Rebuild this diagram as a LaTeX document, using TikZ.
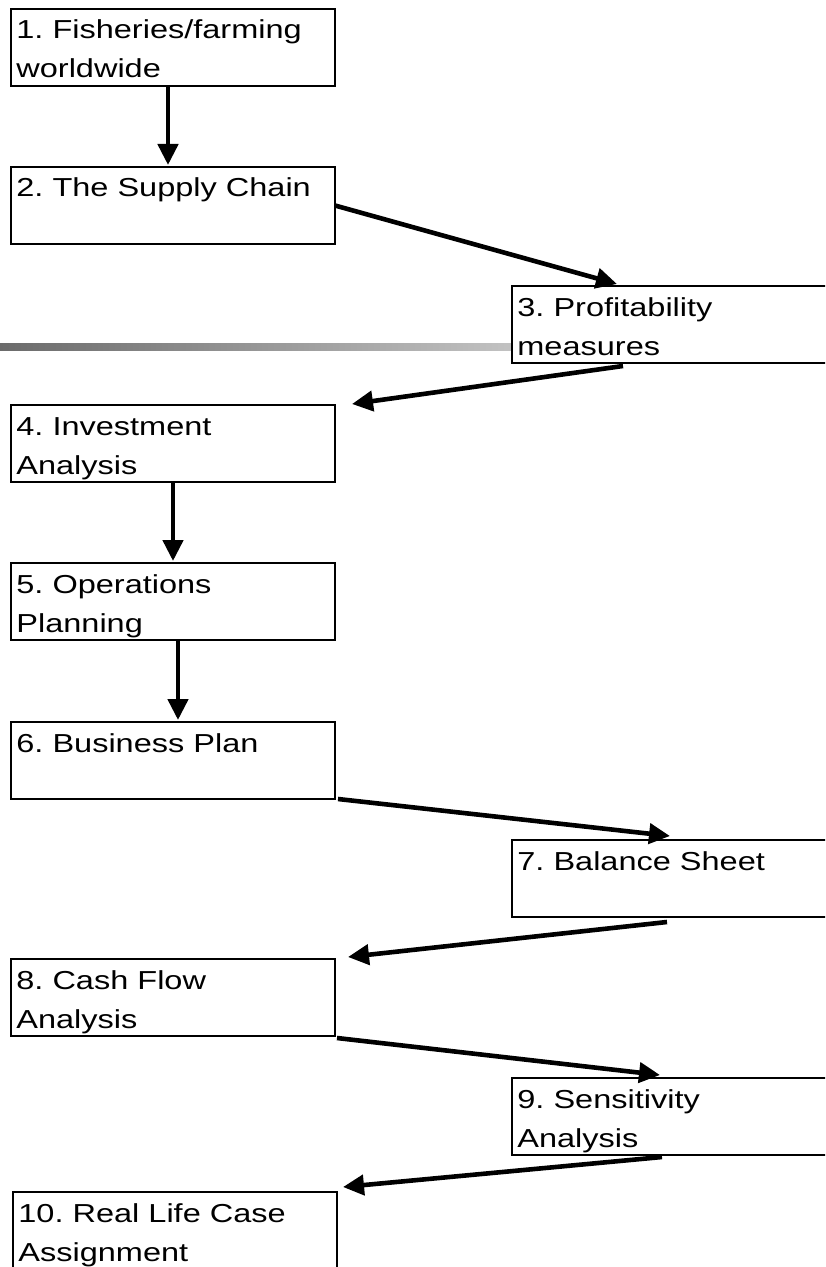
\documentclass[tikz,border=0pt]{standalone}
\usepackage{fontspec}
\setmainfont{Liberation Sans}
\usepackage{graphicx}
\usetikzlibrary{arrows.meta}
\frenchspacing
\definecolor{bardark}{RGB}{107,107,107}
\definecolor{barlight}{RGB}{194,194,194}
\tikzset{
  box/.style={draw, line width=1pt, minimum width=162pt, minimum height=38.5pt,
              inner sep=0pt, outer sep=0pt, anchor=north west},
  lbl/.style={anchor=base west, inner sep=0pt, font=\fontsize{13}{19.5}\selectfont},
  arr/.style={line width=2.3pt, -{Triangle[length=10.5pt,width=10pt]}}
}
\newcommand{\boxtext}[1]{\scalebox{1.25}[1]{\begin{tabular}[t]{@{}l@{}}#1\end{tabular}}}
\begin{document}
\begin{tikzpicture}[x=0.5pt, y=-0.5pt]
      \useasboundingbox (0,0) rectangle (825,1267);
      \clip (0,0) rectangle (825,1267);
      % grey bar behind box 3
      \shade [left color=bardark, right color=barlight] (0,343) rectangle (512,350);
      % boxes
      \node [box] (fish) at (11,9) {};
      \node [box] (supply) at (11,167) {};
      \node [box] (profit) at (512,286) {};
      \node [box] (invest) at (11,405) {};
      \node [box] (ops) at (11,563) {};
      \node [box] (busplan) at (11,722) {};
      \node [box] (balance) at (512,840) {};
      \node [box] (cashflow) at (11,959) {};
      \node [box] (sens) at (512,1078) {};
      \node [box] (reallife) at (13,1192) {};
      % texts
      \node [lbl] (fishtxt) at ([xshift=2.5pt,yshift=-15pt]fish.north west) {\boxtext{1. Fisheries/farming\\worldwide}};
      \node [lbl] (supplytxt) at ([xshift=2.5pt,yshift=-15pt]supply.north west) {\boxtext{2. The Supply Chain}};
      \node [lbl] (profittxt) at ([xshift=2.5pt,yshift=-15pt]profit.north west) {\boxtext{3. Profitability\\measures}};
      \node [lbl] (investtxt) at ([xshift=2.5pt,yshift=-15pt]invest.north west) {\boxtext{4. Investment\\Analysis}};
      \node [lbl] (opstxt) at ([xshift=2.5pt,yshift=-15pt]ops.north west) {\boxtext{5. Operations\\Planning}};
      \node [lbl] (busplantxt) at ([xshift=2.5pt,yshift=-15pt]busplan.north west) {\boxtext{6. Business Plan}};
      \node [lbl] (balancetxt) at ([xshift=2.5pt,yshift=-15pt]balance.north west) {\boxtext{7. Balance Sheet}};
      \node [lbl] (cashflowtxt) at ([xshift=2.5pt,yshift=-15pt]cashflow.north west) {\boxtext{8. Cash Flow\\Analysis}};
      \node [lbl] (senstxt) at ([xshift=2.5pt,yshift=-15pt]sens.north west) {\boxtext{9. Sensitivity\\Analysis}};
      \node [lbl] (reallifetxt) at ([xshift=2.5pt,yshift=-15pt]reallife.north west) {\boxtext{10. Real Life Case\\Assignment}};
      % arrows
      \draw [arr] ([xshift=-2.5pt]fish.south) -- ([xshift=-2.5pt,yshift=1pt]supply.north);
      \draw [arr] (supply.east) -- ([xshift=52.5pt,yshift=1pt]profit.north west);
      \draw [arr] ([xshift=55.5pt,yshift=-1.5pt]profit.south west) -- ([xshift=8.5pt,yshift=0.5pt]invest.north east);
      \draw [arr] (invest.south) -- ([yshift=1pt]ops.north);
      \draw [arr] ([xshift=2.5pt]ops.south) -- ([xshift=2.5pt,yshift=1pt]busplan.north);
      \draw [arr] ([xshift=1.5pt]busplan.south east) -- ([xshift=79pt,yshift=2pt]balance.north west);
      \draw [arr] ([xshift=77.5pt,yshift=-2.5pt]balance.south west) -- ([xshift=6.5pt,yshift=1pt]cashflow.north east);
      \draw [arr] ([xshift=1pt,yshift=-1pt]cashflow.south east) -- ([xshift=74pt,yshift=1.5pt]sens.north west);
      \draw [arr] ([xshift=75pt,yshift=-1pt]sens.south west) -- ([xshift=3pt,yshift=2.5pt]reallife.north east);
\end{tikzpicture}
\end{document}
